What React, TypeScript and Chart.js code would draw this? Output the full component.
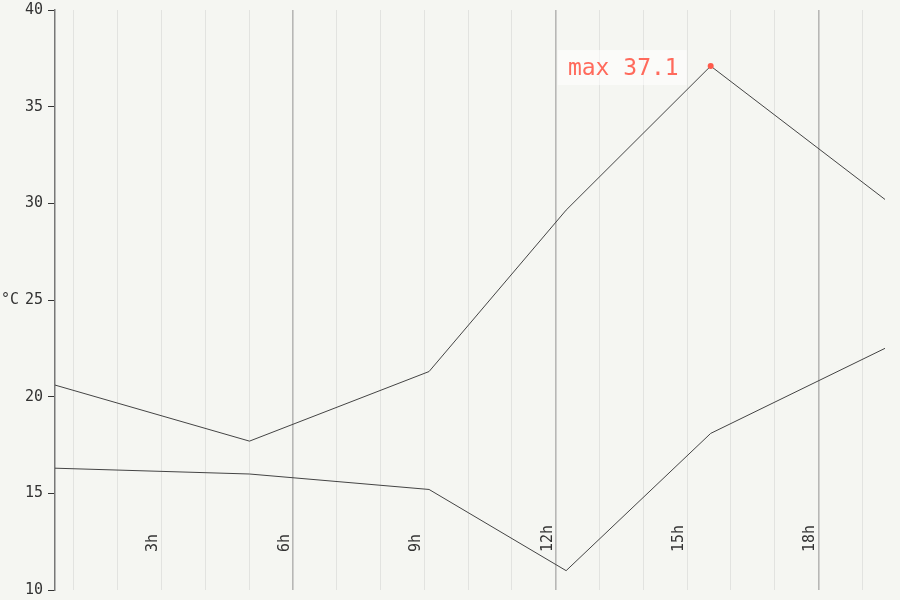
import React, { useEffect, useRef } from "react";
import { Chart, registerables } from "chart.js";

Chart.register(...registerables);

const hours = [0.57, 5.01, 9.11, 12.24, 15.54, 19.52];
const highTemps = [20.6, 17.7, 21.3, 29.65, 37.1, 30.2];
const lowTemps = [16.3, 16.0, 15.2, 11.0, 18.1, 22.5];
const xTickLabels = [3, 6, 9, 12, 15, 18];
const yTicks = [10, 15, 20, 25, 30, 35, 40];
const unitLabel = "°C";

const MONO = "'DejaVu Sans Mono', monospace";

export default function App() {
  const ref = useRef<HTMLCanvasElement | null>(null);

  useEffect(() => {
    document.body.style.margin = "0";
    const canvas = ref.current;
    if (!canvas) return;

    let maxIdx = 0;
    highTemps.forEach((v, i) => {
      if (v > highTemps[maxIdx]) maxIdx = i;
    });
    const maxPoint = { x: hours[maxIdx], y: highTemps[maxIdx] };

    const bgPlugin = {
      id: "bg",
      beforeDraw(chart: any) {
        const { ctx, width, height } = chart;
        ctx.save();
        ctx.fillStyle = "#f5f6f2";
        ctx.fillRect(0, 0, width, height);
        ctx.restore();
      },
    };

    const labelsPlugin = {
      id: "labels",
      afterDatasetsDraw(chart: any) {
        const { ctx, scales } = chart;
        const xs = scales.x;
        const ys = scales.y;
        ctx.save();
        ctx.font = `15px ${MONO}`;
        ctx.fillStyle = "#333";
        xTickLabels.forEach((h) => {
          const px = xs.getPixelForValue(h) - 8;
          const py = ys.bottom - 38;
          ctx.save();
          ctx.translate(px, py);
          ctx.rotate(-Math.PI / 2);
          ctx.textAlign = "left";
          ctx.textBaseline = "middle";
          ctx.fillText(`${h}h`, 0, 0);
          ctx.restore();
        });
        ctx.textAlign = "left";
        ctx.textBaseline = "middle";
        ctx.fillText(unitLabel, 1, ys.getPixelForValue(25));

        const mx = xs.getPixelForValue(maxPoint.x);
        const my = ys.getPixelForValue(maxPoint.y);
        ctx.fillStyle = "rgba(255,255,255,0.55)";
        ctx.fillRect(mx - 153, my - 16, 129, 35);
        ctx.font = `23px ${MONO}`;
        ctx.fillStyle = "#ff6a5c";
        ctx.textAlign = "right";
        ctx.textBaseline = "alphabetic";
        ctx.fillText(`max ${maxPoint.y}`, mx - 32, my + 9);
        ctx.restore();
      },
    };

    const chart = new Chart(canvas, {
      type: "line",
      data: {
        datasets: [
          {
            label: "max",
            data: [maxPoint],
            showLine: false,
            pointRadius: 3,
            pointBackgroundColor: "#ff5a4b",
            pointBorderWidth: 0,
            borderColor: "#ff5a4b",
          },
          {
            label: "high",
            data: hours.map((h, i) => ({ x: h, y: highTemps[i] })),
            borderColor: "#444",
            borderWidth: 1,
            pointRadius: 0,
            tension: 0,
          },
          {
            label: "low",
            data: hours.map((h, i) => ({ x: h, y: lowTemps[i] })),
            borderColor: "#444",
            borderWidth: 1,
            pointRadius: 0,
            tension: 0,
          },
        ],
      },
      options: {
        animation: false,
        responsive: false,
        layout: { padding: { top: 10, right: 15, left: 0, bottom: 0 } },
        plugins: {
          legend: { display: false },
          tooltip: { enabled: false },
        },
        scales: {
          x: {
            type: "linear",
            min: hours[0],
            max: hours[hours.length - 1],
            ticks: {
              display: false,
              stepSize: 1,
              includeBounds: false,
              maxTicksLimit: 100,
            },
            grid: {
              drawTicks: false,
              color: (c: any) =>
                c.tick && c.tick.value % 6 === 0 ? "#b7b7b5" : "#e2e3e0",
              lineWidth: (c: any) => (c.tick && c.tick.value % 6 === 0 ? 1.6 : 1),
            },
            border: { display: false },
            afterFit: (s: any) => {
              s.height = 10;
            },
          },
          y: {
            type: "linear",
            min: 10,
            max: 40,
            afterBuildTicks: (s: any) => {
              s.ticks = yTicks.map((v) => ({ value: v }));
            },
            ticks: {
              stepSize: 5,
              color: "#333",
              padding: 5,
              font: { family: MONO, size: 15, lineHeight: 0.3 },
            },
            grid: {
              drawOnChartArea: false,
              tickLength: 7,
              color: "#333",
              lineWidth: 1,
            },
            border: { color: "#777", width: 1.5 },
            afterFit: (s: any) => {
              s.width = 55;
              s.paddingTop = 0;
              s.paddingBottom = 0;
            },
          },
        },
      },
      plugins: [bgPlugin, labelsPlugin],
    });

    return () => chart.destroy();
  }, []);

  return (
    <div style={{ width: 900, height: 600 }}>
      <canvas ref={ref} width={900} height={600} style={{ display: "block" }} />
    </div>
  );
}
